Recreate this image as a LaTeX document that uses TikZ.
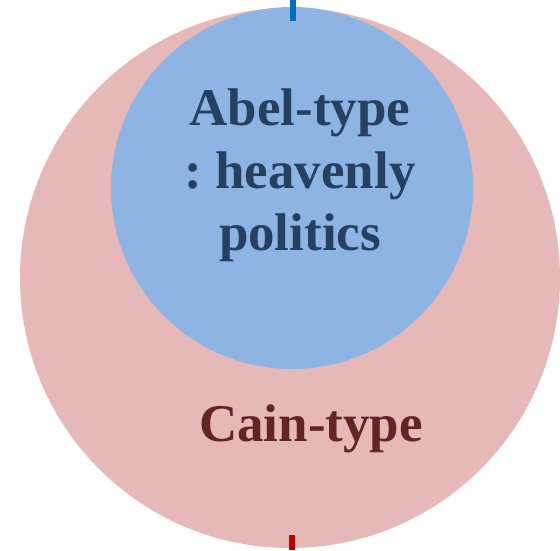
\documentclass[tikz,border=0pt]{standalone}
\usepackage{fontspec}
\setmainfont{Liberation Serif}
\usepackage{tikz}
\usepackage{xcolor}
\usetikzlibrary{positioning}
\frenchspacing
\definecolor{cainfill}{HTML}{E6B9B8}
\definecolor{abelfill}{HTML}{8EB4E3}
\definecolor{cainfont}{HTML}{632523}
\definecolor{abelfont}{HTML}{254061}
\definecolor{abeltick}{HTML}{0070C0}
\definecolor{caintick}{HTML}{C00000}
\tikzset{%
	bigcircle/.style = {circle, fill=cainfill, minimum size=540pt, inner sep=0pt},
	smallcircle/.style = {circle, fill=abelfill, minimum size=362pt, inner sep=0pt},
	typetext/.style = {font=\bfseries\fontsize{53}{63}\selectfont, align=center, anchor=base, inner sep=0pt},
	tickmark/.style = {line width=6pt},
}
\begin{document}
\begin{tikzpicture}[x=1pt,y=1pt]
	\useasboundingbox (0,0) rectangle (560,550);
	\node[bigcircle] (cain) at (290,272) {};  % outer circle
	\node[smallcircle] (abel) at (292,362) {};  % inner circle
	\node[typetext, text=abelfont] (abeltext) at (300,299) {Abel-type\\: heavenly\\politics};
	\node[typetext, text=cainfont] (caintext) at (311,109) {Cain-type};
	\coordinate (top) at (292.5,550);
	\coordinate (bottom) at (292,0);
	\draw[tickmark, abeltick] (top) -- ++(0,-21);  % top mark
	\draw[tickmark, caintick] (bottom) -- ++(0,15);  % bottom mark
\end{tikzpicture}
\end{document}
